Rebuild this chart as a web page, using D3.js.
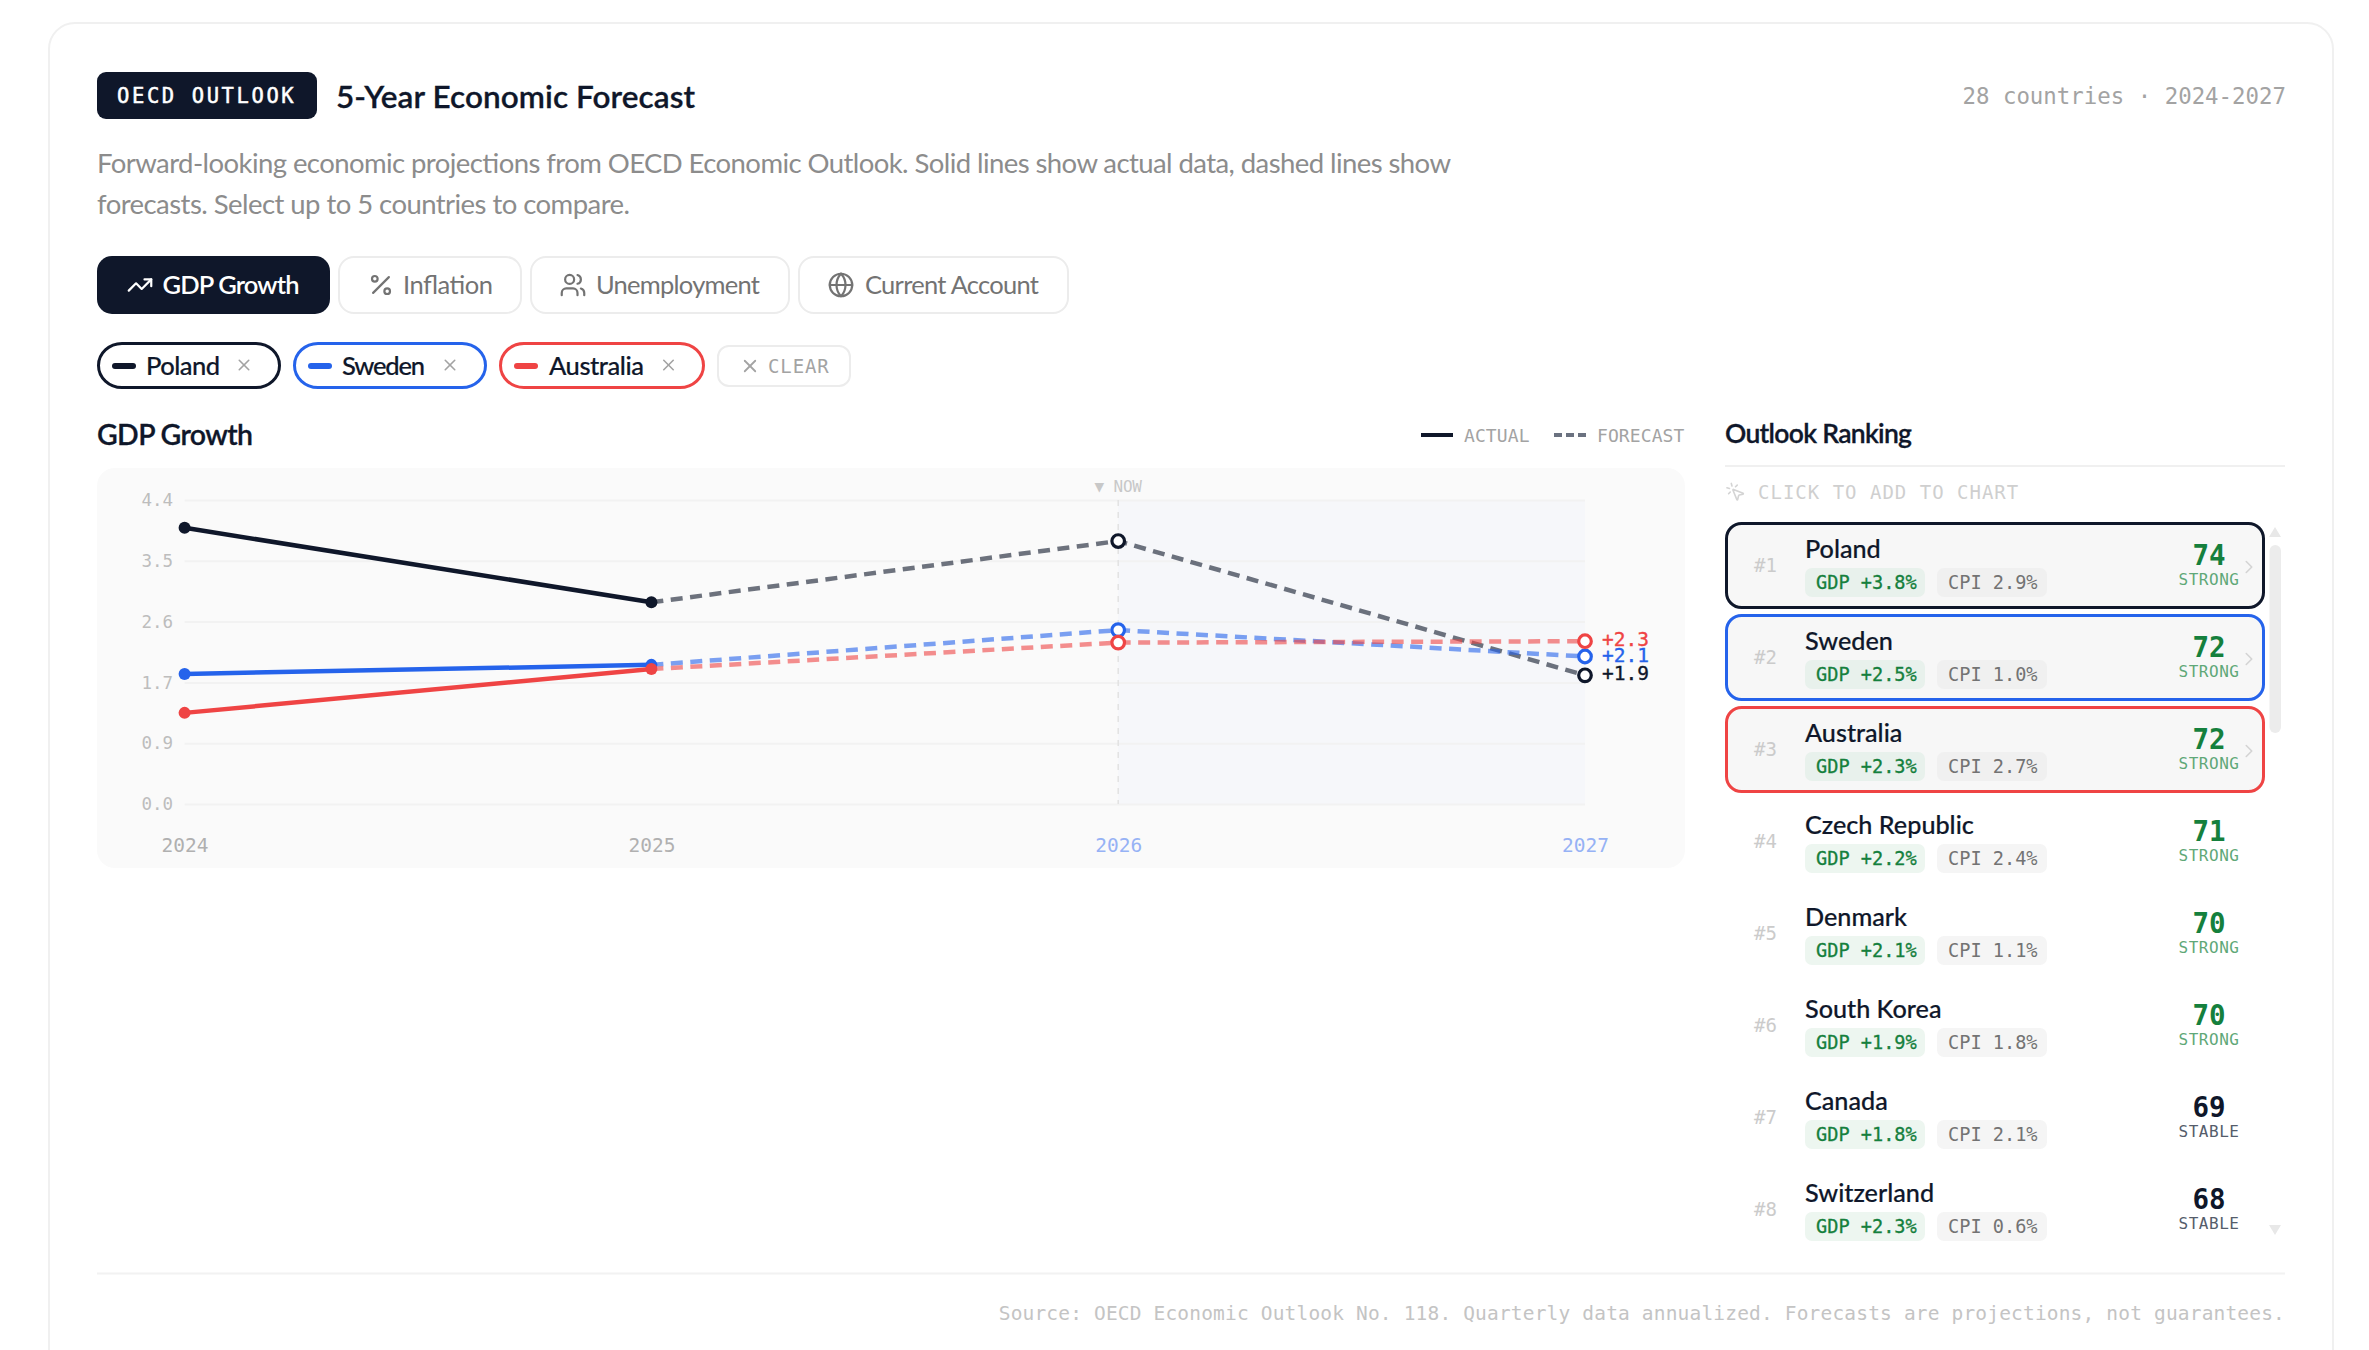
<!DOCTYPE html>
<html>
  <head>
    <meta charset="utf-8">
    <script src="https://d3js.org/d3.v7.min.js"></script>
    <style>
      html, body { margin: 0; padding: 0; background: #fff; overflow: hidden; }
      svg { display: block; }
      text { font-family: Lato, "Noto Sans", sans-serif; }
      .mono, .mono text { font-family: "DejaVu Sans Mono", monospace; }
    </style>
  </head>
  <body>
    <script>
      // chart values
      var years = [2024, 2025, 2026, 2027];
      var lastActual = 2025;
      var seriesNames = ["Poland", "Sweden", "Australia"];
      var poland = [3.97, 2.9, 3.78, 1.85];
      var sweden = [1.87, 2.0, 2.5, 2.12];
      var australia = [1.31, 1.94, 2.32, 2.34];
      var yTicks = [0, 0.874, 1.748, 2.622, 3.496, 4.37];

      // ranking table
      var rankNames = ["Poland", "Sweden", "Australia", "Czech Republic", "Denmark", "South Korea", "Canada", "Switzerland"];
      var rankGdp = [3.8, 2.5, 2.3, 2.2, 2.1, 1.9, 1.8, 2.3];
      var rankCpi = [2.9, 1.0, 2.7, 2.4, 1.1, 1.8, 2.1, 0.6];
      var rankScore = [74, 72, 72, 71, 70, 70, 69, 68];
      var rankLabel = ["STRONG", "STRONG", "STRONG", "STRONG", "STRONG", "STRONG", "STABLE", "STABLE"];

      var tabLabels = ["GDP Growth", "Inflation", "Unemployment", "Current Account"];

      var navy = "#0f172a", blue = "#2563eb", red = "#ef4444", green = "#15803d";
      var seriesColors = [navy, blue, red];
      var seriesValues = [poland, sweden, australia];

      var svg = d3.select("body").append("svg")
        .attr("width", 2369).attr("height", 1350);

      function label(g, s, x, y, size, color, opts) {
        opts = opts || {};
        var t = g.append("text")
          .attr("x", x).attr("y", y)
          .attr("font-size", size)
          .attr("fill", color)
          .attr("font-weight", opts.weight || 400)
          .attr("text-anchor", opts.anchor || "start")
          .text(s);
        if (opts.mono) t.attr("class", "mono");
        if (opts.ls) t.style("letter-spacing", opts.ls + "px");
        if (opts.fit) t.attr("textLength", opts.fit);
        // DejaVu has no medium weight, so thicken the regular a little
        if (opts.heavy) t.attr("stroke", color).attr("stroke-width", opts.heavy);
        return t;
      }

      function circlePath(cx, cy, r) {
        return "M" + (cx - r) + " " + cy + "a" + r + " " + r + " 0 1 0 " + (2 * r) + " 0a" + r + " " + r + " 0 1 0 " + (-2 * r) + " 0";
      }

      var icons = {
        trend: ["M22 7 13.5 15.5 8.5 10.5 2 17", "M16 7h6v6"],
        percent: ["M19 5 5 19", circlePath(6.5, 6.5, 2.5), circlePath(17.5, 17.5, 2.5)],
        users: ["M16 21v-2a4 4 0 0 0-4-4H6a4 4 0 0 0-4 4v2", circlePath(9, 7, 4), "M22 21v-2a4 4 0 0 0-3-3.87", "M16 3.13a4 4 0 0 1 0 7.75"],
        globe: [circlePath(12, 12, 10), "M12 2a14.5 14.5 0 0 0 0 20 14.5 14.5 0 0 0 0-20", "M2 12h20"],
        x: ["M18 6 6 18", "M6 6l12 12"],
        chevron: ["M9 18l6-6-6-6"],
        click: ["M14 4.1 12 6", "M5.1 8l-2.9-.8", "M6 12l-1.9 2", "M7.2 2.2 8 5.1", "M9.037 9.69a.498.498 0 0 1 .653-.653l11 4.5a.5.5 0 0 1-.074.949l-4.349 1.041a1 1 0 0 0-.74.739l-1.04 4.35a.5.5 0 0 1-.95.074z"]
      };

      function icon(g, name, cx, cy, size, color, sw) {
        var k = size / 24;
        g.append("g")
          .attr("transform", "translate(" + (cx - size / 2) + "," + (cy - size / 2) + ") scale(" + k + ")")
          .attr("fill", "none").attr("stroke", color)
          .attr("stroke-width", sw / k)
          .attr("stroke-linecap", "round").attr("stroke-linejoin", "round")
          .selectAll("path").data(icons[name]).enter().append("path")
          .attr("d", function (d) { return d; });
      }

      function box(g, x0, y0, x1, y1, r, fill, stroke, sw) {
        var inset = (sw || 0) / 2;
        return g.append("rect")
          .attr("x", x0 + inset).attr("y", y0 + inset)
          .attr("width", x1 - x0 - 2 * inset).attr("height", y1 - y0 - 2 * inset)
          .attr("rx", r)
          .attr("fill", fill)
          .attr("stroke", stroke || "none")
          .attr("stroke-width", sw || 0);
      }

      // outer card runs off the bottom of the page
      box(svg, 48, 22, 2334, 1420, 26, "#fff", "#f0f0f0", 2);

      // header
      var head = svg.append("g");
      box(head, 97, 72, 317, 119, 9, navy);
      label(head, "OECD OUTLOOK", 117, 103, 20.5, "#fff", { mono: true, ls: 2.6, heavy: 0.5 });
      label(head, "5-Year Economic Forecast", 336, 107.5, 31.5, navy, { weight: 600, fit: 359, heavy: 0.3 });
      label(head, "28 countries \u00b7 2024-2027", 2286, 104, 22.4, "#a3a3a3", { mono: true, anchor: "end" });
      label(head, "Forward-looking economic projections from OECD Economic Outlook. Solid lines show actual data, dashed lines show", 97, 173, 27.5, "#8c8c8c", { fit: 1354 });
      label(head, "forecasts. Select up to 5 countries to compare.", 97, 213.5, 27.5, "#8c8c8c", { fit: 533 });

      // metric tabs
      var tabs = svg.append("g");
      var tabBox = [[97, 330], [338, 522], [530, 790], [798, 1069]];
      var tabIcon = [["trend", 140], ["percent", 381], ["users", 573], ["globe", 841]];
      var tabText = [[162.5, 137], [403, 90], [596, 164], [865, 174]];
      tabLabels.forEach(function (name, i) {
        var on = i === 0;
        box(tabs, tabBox[i][0], 256, tabBox[i][1], 314, 15, on ? navy : "#fff", on ? null : "#ececec", on ? 0 : 2);
        icon(tabs, tabIcon[i][0], tabIcon[i][1], 285, 27, on ? "#fff" : "#737373", 2.2);
        label(tabs, name, tabText[i][0], 294, 25.5, on ? "#fff" : "#737373", { weight: on ? 600 : 400, fit: tabText[i][1] });
      });

      // selected country chips
      var chips = svg.append("g");
      var chipBox = [[97, 281], [293, 487], [499, 705]];
      var chipText = [[146, 74], [342, 83], [549, 95]];
      var chipX = [244, 450, 668.5];
      seriesNames.forEach(function (name, i) {
        var c = seriesColors[i];
        box(chips, chipBox[i][0], 342, chipBox[i][1], 389, 23.5, "#fff", c, 3);
        box(chips, chipBox[i][0] + 15, 363, chipBox[i][0] + 39, 369, 3, c);
        label(chips, name, chipText[i][0], 375, 25.5, navy, { weight: 500, fit: chipText[i][1], heavy: 0.2 });
        icon(chips, "x", chipX[i], 365, 19, "#a3a3a3", 1.6);
      });
      box(chips, 717, 345, 851, 387, 11, "#fff", "#ececec", 2);
      icon(chips, "x", 750, 366, 21, "#a3a3a3", 1.8);
      label(chips, "CLEAR", 768, 373, 19, "#a3a3a3", { mono: true, ls: 0.9 });

      // chart head and legend
      var legend = svg.append("g");
      label(legend, "GDP Growth", 97, 445, 28.5, navy, { weight: 600, fit: 156, heavy: 0.3 });
      legend.append("line").attr("x1", 1421).attr("x2", 1453).attr("y1", 435).attr("y2", 435)
        .attr("stroke", navy).attr("stroke-width", 4);
      label(legend, "ACTUAL", 1464, 442, 18, "#a3a3a3", { mono: true, ls: 0.1 });
      legend.append("line").attr("x1", 1554).attr("x2", 1586).attr("y1", 435).attr("y2", 435)
        .attr("stroke", "#6b7280").attr("stroke-width", 4).attr("stroke-dasharray", "8 4");
      label(legend, "FORECAST", 1597, 442, 18, "#a3a3a3", { mono: true, ls: 0.1 });

      // plot
      box(svg, 97, 468, 1685, 868, 18, "#fafafa");

      var x = d3.scalePoint().domain(years).range([184.6, 1585]);
      var y = d3.scaleLinear().domain([0, 4.37]).range([804, 500]);

      var plot = svg.append("g");
      plot.append("rect")
        .attr("x", x(2026)).attr("y", y(4.37))
        .attr("width", x(2027) - x(2026)).attr("height", y(0) - y(4.37))
        .attr("fill", blue).attr("opacity", 0.02);

      var yAxis = plot.append("g")
        .attr("class", "mono")
        .attr("transform", "translate(" + x(2024) + ",0)")
        .call(d3.axisLeft(y).tickValues(yTicks).tickSize(-(x(2027) - x(2024))).tickPadding(11.6)
          .tickFormat(function (v) { return v.toFixed(1); }));
      yAxis.select(".domain").remove();
      yAxis.selectAll("line").attr("stroke", "#f2f2f2").attr("stroke-width", 2);
      yAxis.selectAll("text").attr("font-size", 17.5).attr("fill", "#bdbdbd");

      var xAxis = plot.append("g")
        .attr("class", "mono")
        .attr("transform", "translate(0,804)")
        .call(d3.axisBottom(x).tickSize(0).tickPadding(34.5).tickFormat(d3.format("d")));
      xAxis.select(".domain").remove();
      xAxis.selectAll("text").attr("font-size", 19.5)
        .attr("fill", function (d) { return d > lastActual ? "#96b2f5" : "#b0b0b0"; });

      // now marker
      plot.append("line")
        .attr("x1", x(2026)).attr("x2", x(2026)).attr("y1", y(4.37)).attr("y2", y(0))
        .attr("stroke", "#e2e2e2").attr("stroke-width", 1.5).attr("stroke-dasharray", "6 6");
      label(plot, "\u25bc NOW", x(2026), 491.5, 16, "#c8c8c8", { mono: true, anchor: "middle", ls: -0.2 });

      var line = d3.line()
        .x(function (d) { return x(d.year); })
        .y(function (d) { return y(d.value); });

      seriesNames.forEach(function (name, i) {
        var c = seriesColors[i];
        var pts = years.map(function (yr, j) { return { year: yr, value: seriesValues[i][j] }; });
        var g = plot.append("g");
        g.append("path")
          .datum(pts.filter(function (d) { return d.year <= lastActual; }))
          .attr("d", line).attr("fill", "none").attr("stroke", c).attr("stroke-width", 4.5);
        g.append("path")
          .datum(pts.filter(function (d) { return d.year >= lastActual; }))
          .attr("d", line).attr("fill", "none").attr("stroke", c).attr("stroke-width", 4.5)
          .attr("stroke-dasharray", "12 7.5").attr("opacity", 0.6);
        g.selectAll("circle").data(pts).enter().append("circle")
          .attr("cx", function (d) { return x(d.year); })
          .attr("cy", function (d) { return y(d.value); })
          .attr("r", function (d) { return d.year <= lastActual ? 6 : 6.3; })
          .attr("fill", function (d) { return d.year <= lastActual ? c : "#fff"; })
          .attr("stroke", function (d) { return d.year <= lastActual ? "none" : c; })
          .attr("stroke-width", 3.2);
        label(g, "+" + d3.format(".1f")(pts[3].value), x(2027) + 17, y(pts[3].value) + 5, 19.5, c, { mono: true, heavy: 0.35 });
      });

      // ranking panel
      var side = svg.append("g");
      label(side, "Outlook Ranking", 1725, 443, 26.5, navy, { weight: 600, fit: 187, heavy: 0.3 });
      side.append("line").attr("x1", 1725).attr("x2", 2285).attr("y1", 466).attr("y2", 466)
        .attr("stroke", "#f0f0f0").attr("stroke-width", 2);
      icon(side, "click", 1735.5, 492, 21, "#d4d4d4", 1.6);
      label(side, "CLICK TO ADD TO CHART", 1758, 499, 19, "#cfcfcf", { mono: true, ls: 1.0 });

      // scrollbar
      box(side, 2269.5, 545, 2281, 733, 6, "#ececec");
      side.append("path").attr("d", "M2275 527l6 10h-12z").attr("fill", "#e8e8e8");
      side.append("path").attr("d", "M2275 1235l-6-10h12z").attr("fill", "#e8e8e8");

      var rows = side.selectAll("g.row").data(rankNames).enter().append("g")
        .attr("class", "row")
        .attr("transform", function (d, i) { return "translate(0," + (522 + 92 * i) + ")"; });

      rows.each(function (name, i) {
        var g = d3.select(this);
        var picked = seriesNames.indexOf(name);
        var on = picked >= 0;
        var strong = rankLabel[i] === "STRONG";
        if (on) box(g, 1725, 0, 2265, 87, 15, "#f7f7f7", seriesColors[picked], 3);
        label(g, "#" + (i + 1), 1754, 50, 19, "#cbcbcb", { mono: true });
        label(g, name, 1805, 36, 25.2, navy, { weight: 500, heavy: 0.2 });
        box(g, 1805, 46, 1925, 75, 7, on ? "#e8f1ec" : "#edf6f0");
        label(g, "GDP +" + rankGdp[i].toFixed(1) + "%", 1816, 66.5, 18.6, green, { mono: true, heavy: 0.3 });
        box(g, 1937, 46, 2047, 75, 7, on ? "#f0f0f0" : "#f5f5f5");
        label(g, "CPI " + rankCpi[i].toFixed(1) + "%", 1948, 66.5, 18.6, "#737373", { mono: true });
        label(g, rankScore[i], 2209, 42.5, 27.5, strong ? green : navy, { mono: true, weight: 700, anchor: "middle" });
        label(g, rankLabel[i], 2209, 63, 16, strong ? "#5fa878" : "#555d6b", { mono: true, anchor: "middle", ls: 0.5 });
        if (on) icon(g, "chevron", 2249, 45, 22, "#d4d4d4", 1.6);
      });

      // footer
      svg.append("line").attr("x1", 97).attr("x2", 2285).attr("y1", 1273.5).attr("y2", 1273.5)
        .attr("stroke", "#f2f2f2").attr("stroke-width", 2);
      label(svg, "Source: OECD Economic Outlook No. 118. Quarterly data annualized. Forecasts are projections, not guarantees.", 2285, 1320, 19.5, "#c4c4c4", { mono: true, anchor: "end", ls: 0.17 });
    </script>
  </body>
</html>
